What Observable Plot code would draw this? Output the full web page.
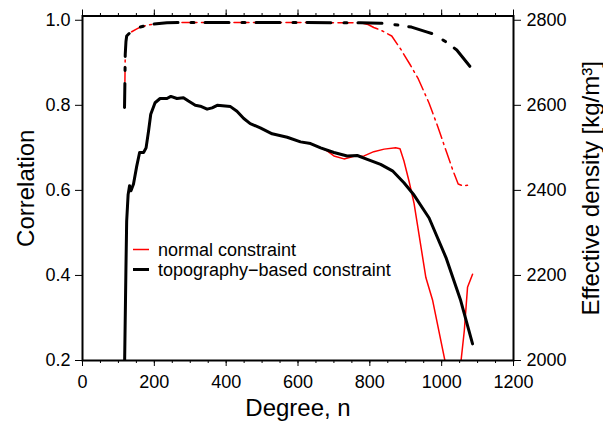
<!DOCTYPE html>
<html><head><meta charset="utf-8">
<script src="https://cdn.jsdelivr.net/npm/d3@7"></script>
<script src="https://cdn.jsdelivr.net/npm/@observablehq/plot@0.6"></script>
<style>
html,body{margin:0;padding:0;background:#fff;}
#chart svg{display:block;}
</style></head><body><div id="chart"></div>
<script>
// Correlation (left axis) – dash-dot curves
const degreeTopoCorr = [117,118,119,121,123,130,137,150,161,180,197,235,300,400,500,600,700,774,830,867,916,960,979,1012,1042,1081];
const topoCorr       = [0.795,0.85,0.92,0.95,0.963,0.969,0.973,0.979,0.984,0.988,0.991,0.994,0.995,0.995,0.995,0.995,0.994,0.994,0.993,0.990,0.984,0.972,0.967,0.949,0.930,0.889];
const degreeNormCorr = [117,118,119,121,123,130,137,150,161,180,197,235,300,400,500,600,700,774,795,811,830,861,886,914,935,965,990,1014,1030,1046,1058,1072];
const normCorr       = [0.795,0.85,0.92,0.95,0.963,0.969,0.973,0.979,0.984,0.988,0.991,0.994,0.995,0.995,0.995,0.995,0.994,0.994,0.990,0.983,0.977,0.963,0.932,0.893,0.862,0.805,0.748,0.689,0.650,0.615,0.611,0.612];
// Effective density (right axis) – solid curves, kg/m^3
const degreeTopoDens = [117,119,121,123,127,131,135,142,151,159,170,177,184,190,202,216,235,246,263,281,295,314,328,347,361,375,412,430,449,467,495,528,570,607,635,663,700,737,765,793,830,863,895,923,965,1012,1053,1086];
const topoDens       = [1980,2100,2220,2328,2390,2411,2399,2415,2457,2489,2489,2500,2540,2579,2606,2616,2616,2621,2616,2618,2610,2600,2598,2591,2594,2600,2597,2586,2569,2557,2547,2533,2525,2514,2510,2500,2489,2481,2482,2473,2461,2446,2418,2389,2335,2242,2141,2039];
const degreeNormDens = [117,119,121,123,127,131,135,142,151,159,170,177,184,190,202,216,235,246,263,281,295,314,328,347,361,375,412,430,449,467,495,528,570,607,635,663,681,700,728,756,784,811,840,872,884,895,909,923,956,975,1009,1035,1054,1063,1072,1086];
const normDens       = [1980,2100,2220,2328,2390,2411,2399,2415,2457,2489,2489,2500,2540,2579,2606,2616,2616,2621,2616,2618,2610,2600,2598,2591,2594,2600,2597,2586,2569,2557,2547,2533,2525,2514,2510,2500,2493,2481,2474,2480,2481,2491,2497,2500,2498,2469,2422,2370,2195,2141,2000,1880,2000,2070,2172,2203];

const xTicks = [0,200,400,600,800,1000,1200];
const xMinorTicks = d3.range(0,1201,50);
const corrTicks = [0.2,0.4,0.6,0.8,1.0];
const densTicks = [2000,2200,2400,2600,2800];
const seriesNames = ["normal constraint","topography\u2212based constraint"];
const seriesColors = ["red","black"];
const seriesWidths = [1.5,3];
const xTitle = "Degree, n";
const yTitle = "Correlation";
const y2Title = "Effective density [kg/m\u00B3]";

// density -> correlation-axis position
const dens2y = d => 0.2 + (d - 2000) / 1000;
const y2dens = y => String(Math.round(2000 + (y - 0.2) * 1000));

const toRows = (xs, ys) => xs.map((n, i) => ({n, v: ys[i]}));
const topoCorrRows = toRows(degreeTopoCorr, topoCorr);
const normCorrRows = toRows(degreeNormCorr, normCorr);
const topoDensRows = toRows(degreeTopoDens, topoDens.map(dens2y));
const normDensRows = toRows(degreeNormDens, normDens.map(dens2y));

const font = "'Liberation Sans', Arial, Helvetica, sans-serif";

function legendMark(index, scales, values, dims) {
  const g = d3.create("svg:g");
  const x0 = dims.marginLeft + 51, y0 = dims.marginTop + 234;
  seriesNames.forEach((name, i) => {
    const y = y0 + i * 20;
    g.append("line").attr("x1", x0).attr("x2", x0 + 16).attr("y1", y).attr("y2", y)
      .attr("stroke", seriesColors[i]).attr("stroke-width", seriesWidths[i]);
    g.append("text").attr("x", x0 + 25).attr("y", y).attr("dy", "0.35em")
      .attr("text-anchor", "start").attr("font-size", 18).attr("fill", "black").text(name);
  });
  return g.node();
}

const chart = Plot.plot({
  width: 603,
  height: 423,
  marginLeft: 82,
  marginRight: 90,
  marginTop: 15.5,
  marginBottom: 63,
  style: {fontFamily: font, background: "white", color: "black", overflow: "visible"},
  x: {domain: [0, 1200], label: null},
  y: {domain: [0.2, 1.01], label: null},
  marks: [
    // solid density curves
    Plot.line(normDensRows, {x: "n", y: "v", stroke: "red", strokeWidth: 1.5, clip: true, strokeLinejoin: "round"}),
    Plot.line(topoDensRows, {x: "n", y: "v", stroke: "black", strokeWidth: 3, clip: true, strokeLinejoin: "round"}),
    // dash-dot correlation curves
    Plot.line(normCorrRows, {x: "n", y: "v", stroke: "red", strokeWidth: 1.5, strokeDasharray: "15,4.5,2,4.5", clip: true}),
    Plot.line(topoCorrRows, {x: "n", y: "v", stroke: "black", strokeWidth: 3, strokeDasharray: "24,13,3,11", clip: true}),
    // axes
    Plot.axisX(xTicks, {anchor: "bottom", tickSize: 6, tickPadding: 9, fontSize: 18, label: null, tickFormat: d3.format("d")}),
    Plot.axisX(xMinorTicks, {anchor: "bottom", tickSize: 3, fill: "none", label: null}),
    Plot.axisX(xTicks, {anchor: "top", tickSize: 7, fill: "none", label: null}),
    Plot.axisX(xMinorTicks, {anchor: "top", tickSize: 3.5, fill: "none", label: null}),
    Plot.axisY(corrTicks, {anchor: "left", tickSize: 7, tickPadding: 5, fontSize: 18, label: null, tickFormat: d3.format(".1f")}),
    Plot.axisY(densTicks.map(dens2y), {anchor: "right", tickSize: 7, tickPadding: 6, fontSize: 18, label: null, tickFormat: y2dens}),
    Plot.frame({stroke: "black", strokeWidth: 2}),
    // titles
    Plot.text([xTitle], {frameAnchor: "bottom", dy: 48, lineAnchor: "middle", textAnchor: "middle", fontSize: 24}),
    Plot.text([yTitle], {frameAnchor: "left", dx: -56, rotate: -90, lineAnchor: "middle", textAnchor: "middle", fontSize: 24}),
    Plot.text([y2Title], {frameAnchor: "right", dx: 78, rotate: -90, lineAnchor: "middle", textAnchor: "middle", fontSize: 24}),
    legendMark
  ]
});
document.getElementById("chart").appendChild(chart);
</script>
</body></html>
